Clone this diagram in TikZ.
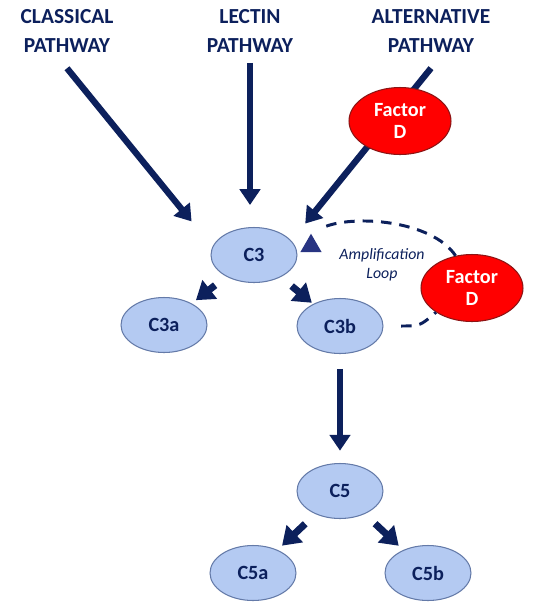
\documentclass[tikz,border=0pt]{standalone}
\usepackage{fontspec}
\setmainfont{Carlito}
\usetikzlibrary{arrows.meta,shapes.geometric}
\definecolor{navy}{RGB}{12,32,92}
\definecolor{tip-navy}{RGB}{40,52,130}
\definecolor{light-blue}{RGB}{180,202,242}
\definecolor{edge-blue}{RGB}{100,122,168}
\definecolor{factor-red}{RGB}{255,0,0}
\definecolor{dark-red}{RGB}{140,20,20}

\begin{document}
\begin{tikzpicture}[x=0.02cm,y=-0.02cm,
		pathlabel/.style={text=navy,font=\bfseries\fontsize{12.2}{16}\selectfont,align=center,inner sep=2pt},
		complement/.style={ellipse,draw=edge-blue,fill=light-blue,line width=0.6pt,minimum width=1.72cm,minimum height=1.1cm,inner sep=0pt,text=navy,font=\bfseries\fontsize{11.5}{13}\selectfont},
		factord/.style={ellipse,draw=dark-red,fill=factor-red,line width=0.6pt,minimum width=2.04cm,minimum height=1.34cm,inner sep=0pt,text=white,align=center,font=\bfseries\fontsize{11.5}{13}\selectfont},
		bigarrow/.style={draw=navy,line width=3.6pt,-{Triangle[width=11.5pt,length=9pt]}},
		splitarrow/.style={draw=navy,line width=4pt,-{Triangle[width=13pt,length=10pt]}},
		ampdash/.style={draw=navy,line width=1.7pt,dash pattern=on 6pt off 4.5pt}]
			\useasboundingbox (0,0) rectangle (533,603);						% page size
			\node[pathlabel] (classical) at (67,31) {CLASSICAL\\PATHWAY};			% pathway titles
			\node[pathlabel] (lectin) at (250,31) {LECTIN\\PATHWAY};
			\node[pathlabel] (alternative) at (431,31) {ALTERNATIVE\\PATHWAY};
			\node[complement] (c3) at (254,255) {C3};						% complement proteins
			\node[complement] (c3a) at (164,325) {C3a};
			\node[complement] (c3b) at (340,326) {C3b};
			\node[complement] (c5) at (340,491) {C5};
			\node[complement] (c5a) at (253,573) {C5a};
			\node[complement] (c5b) at (428,573) {C5b};
			\draw[bigarrow,shorten >=18.7pt] ([yshift=-7pt]classical.south) -- (c3.169);	% pathways into C3
			\draw[bigarrow,shorten >=12.5pt] ([yshift=-4pt]lectin.south) -- (lectin.south |- c3.north);
			\draw[bigarrow,shorten >=12.5pt] ([yshift=-7pt]alternative.south) -- (c3.21);
			\node[factord] (facd1) at (400,121) {Factor\\D};					% factor D on the way in
			\draw[splitarrow,shorten <=8pt,shorten >=3pt] (c3) -- (c3a);			% cleavage of C3
			\draw[splitarrow,shorten <=8pt,shorten >=1pt] (c3) -- (c3b);
			\draw[bigarrow,shorten <=8.5pt,shorten >=7pt] (c3b) -- (c5);			% C3b to C5
			\draw[splitarrow,shorten <=8pt,shorten >=3.5pt] (c5) -- (c5a);			% cleavage of C5
			\draw[splitarrow,shorten <=8pt,shorten >=3.5pt] (c5) -- (c5b);
			\node[factord] (facd2) at (472,288) {Factor\\D};					% factor D in the loop
			\node[regular polygon,regular polygon sides=3,fill=tip-navy,minimum size=14pt,inner sep=0pt] (looptip) at (311,246) {};	% loop head
			\draw[ampdash,shorten >=7pt] (facd2.117) .. controls (432,220) and (352,214) .. (looptip.north);	% amplification loop
			\draw[ampdash,shorten <=10pt] (c3b.east) .. controls (420,326) .. (facd2.214);
			\node[text=navy,font=\itshape\fontsize{9}{10.5}\selectfont,align=center] (amp) at (382,265) {Amplification\\Loop};	% loop label
		\end{tikzpicture}
\end{document}
